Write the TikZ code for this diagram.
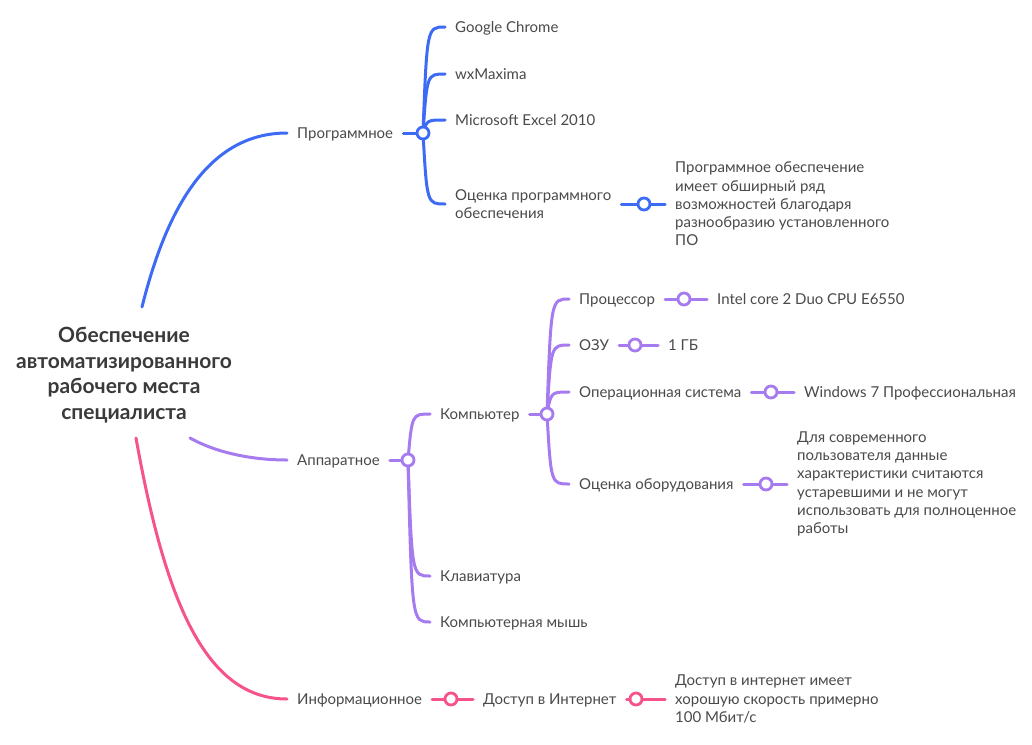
\documentclass[tikz,border=0pt]{standalone}
\usepackage{fontspec}
\setmainfont{Lato}
\usetikzlibrary{calc,backgrounds}
\definecolor{cblue}{HTML}{3D6BF5}
\definecolor{cpurple}{HTML}{A57BEF}
\definecolor{cpink}{HTML}{F5538A}
\definecolor{ctext}{HTML}{4A4A4A}
\definecolor{croot}{HTML}{3A3A3A}
\begin{document}
\begin{tikzpicture}[x=1pt,y=-1pt,
  lbl/.style={anchor=west, inner xsep=10pt, inner ysep=1pt, font=\fontsize{15}{18.3}\selectfont, text=ctext, align=left},
  one/.style={text height=12pt, text depth=1pt},
  hub/.style={circle, draw=#1, fill=white, line width=2.8pt, minimum size=12pt, inner sep=0pt},
  conn/.style={draw=#1, line width=3pt, line cap=round},
  branch/.style={to path={.. controls ($(\tikztostart |- \tikztotarget)+(4,0)$) and ($(\tikztostart |- \tikztotarget)+(4,0)$) .. (\tikztotarget)}},
  rootlbl/.style={font=\bfseries\fontsize{21}{25.5}\selectfont, text=croot, align=center, inner sep=0pt}
]
\useasboundingbox (0,0) rectangle (1032,744);

% root
\node[rootlbl] (root) at (124,375) {Обеспечение\\автоматизированного\\рабочего места\\специалиста};
\coordinate (rb) at (142,307);
\coordinate (rp) at (190,438);
\coordinate (rk) at (136,438);

% blue branch
\node[lbl,one] (prog) at (287,133) {Программное};
\node[hub=cblue] (hprog) at (423,133) {};
\node[lbl,one] (gc) at (445,27) {Google Chrome};
\node[lbl,one] (wx) at (445,74) {wxMaxima};
\node[lbl,one] (ms) at (445,120) {Microsoft Excel 2010};
\node[lbl] (ocp) at (445,204) {Оценка программного\\обеспечения};
\node[hub=cblue] (hocp) at (644,204) {};
\node[lbl] (ocpd) at (665,204) {Программное обеспечение\\имеет обширный ряд\\возможностей благодаря\\разнообразию установленного\\ПО};

% purple branch
\node[lbl,one] (app) at (287,460) {Аппаратное};
\node[hub=cpurple] (happ) at (408,460) {};
\node[lbl,one] (comp) at (430,414) {Компьютер};
\node[hub=cpurple] (hcomp) at (547,414) {};
\node[lbl,one] (proc) at (569,299) {Процессор};
\node[hub=cpurple] (hproc) at (684,299) {};
\node[lbl,one] (intel) at (707,299) {Intel core 2 Duo CPU E6550};
\node[lbl,one] (ozu) at (569,345) {ОЗУ};
\node[hub=cpurple] (hozu) at (635,345) {};
\node[lbl,one] (gb) at (658,345) {1 ГБ};
\node[lbl,one] (os) at (569,392) {Операционная система};
\node[hub=cpurple] (hos) at (771,392) {};
\node[lbl,one] (win) at (794,392) {Windows 7 Профессиональная};
\node[lbl,one] (ocob) at (569,484) {Оценка оборудования};
\node[hub=cpurple] (hocob) at (766,484) {};
\node[lbl] (ocobd) at (787,484) {Для современного\\пользователя данные\\характеристики считаются\\устаревшими и не могут\\использовать для полноценное\\работы};
\node[lbl,one] (klav) at (430,576) {Клавиатура};
\node[lbl,one] (mouse) at (430,622) {Компьютерная мышь};

% pink branch
\node[lbl,one] (inf) at (287,699) {Информационное};
\node[hub=cpink] (hinf) at (451,699) {};
\node[lbl,one] (dost) at (473,699) {Доступ в Интернет};
\node[hub=cpink] (hdost) at (636,699) {};
\node[lbl] (dostd) at (665,699) {Доступ в интернет имеет\\хорошую скорость примерно\\100 Мбит/с};

\begin{scope}[on background layer]
  \fill[white] (0,0) rectangle (1032,744);
  % root connectors
  \draw[conn=cblue] (rb) .. controls (165,215) and (205,133) .. (prog.west);
  \draw[conn=cpurple] (rp) .. controls (215,452) and (250,460) .. (app.west);
  \draw[conn=cpink] (rk) .. controls (165,600) and (205,699) .. (inf.west);

  % blue
  \draw[conn=cblue] (prog.east) -- (hprog.center);
  \draw[conn=cblue] (hprog.center) to[branch] (gc.west);
  \draw[conn=cblue] (hprog.center) to[branch] (wx.west);
  \draw[conn=cblue] (hprog.center) to[branch] (ms.west);
  \draw[conn=cblue] (hprog.center) to[branch] (ocp.west);
  \draw[conn=cblue] (ocp.east) -- (hocp.center) -- (ocpd.west);

  % purple
  \draw[conn=cpurple] (app.east) -- (happ.center);
  \draw[conn=cpurple] (happ.center) to[branch] (comp.west);
  \draw[conn=cpurple] (happ.center) to[branch] (klav.west);
  \draw[conn=cpurple] (happ.center) to[branch] (mouse.west);
  \draw[conn=cpurple] (comp.east) -- (hcomp.center);
  \draw[conn=cpurple] (hcomp.center) to[branch] (proc.west);
  \draw[conn=cpurple] (hcomp.center) to[branch] (ozu.west);
  \draw[conn=cpurple] (hcomp.center) to[branch] (os.west);
  \draw[conn=cpurple] (hcomp.center) to[branch] (ocob.west);
  \draw[conn=cpurple] (proc.east) -- (hproc.center) -- (intel.west);
  \draw[conn=cpurple] (ozu.east) -- (hozu.center) -- (gb.west);
  \draw[conn=cpurple] (os.east) -- (hos.center) -- (win.west);
  \draw[conn=cpurple] (ocob.east) -- (hocob.center) -- (ocobd.west);

  % pink
  \draw[conn=cpink] (inf.east) -- (hinf.center) -- (dost.west);
  \draw[conn=cpink] (dost.east) -- (hdost.center) -- (dostd.west);
\end{scope}
\end{tikzpicture}
\end{document}
